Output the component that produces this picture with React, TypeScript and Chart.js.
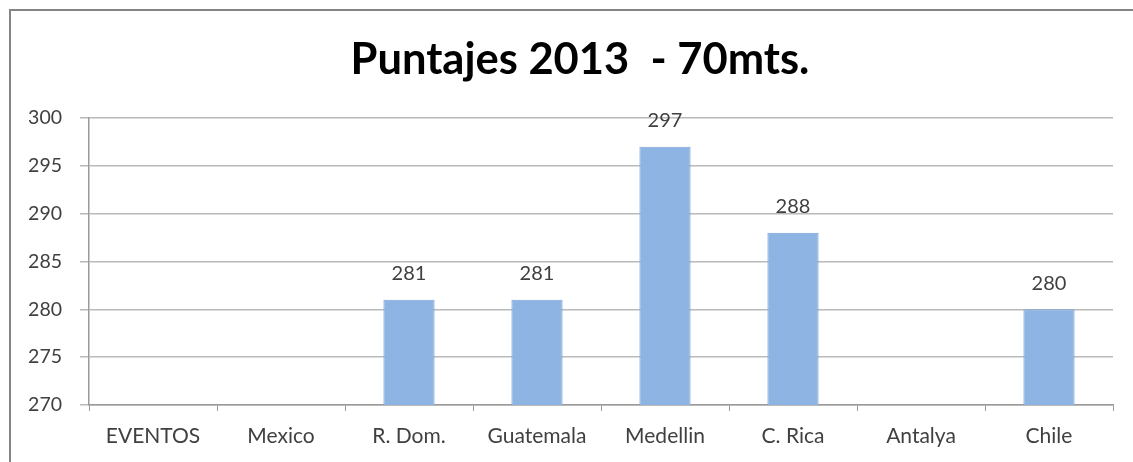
import React, { useEffect, useRef } from "react";
import { Chart, registerables } from "chart.js";

Chart.register(...registerables);

const categories = ["EVENTOS", "Mexico", "R. Dom.", "Guatemala", "Medellin", "C. Rica", "Antalya", "Chile"];
const scores: (number | null)[] = [null, null, 281, 281, 297, 288, null, 280];
const yMin = 270;
const yMax = 300;
const yStep = 5;
const titleText = "Puntajes 2013  - 70mts.";

const FONT = "Lato, 'Open Sans', sans-serif";

const valueLabels = {
  id: "valueLabels",
  afterDatasetsDraw(chart: any) {
    const ctx = chart.ctx;
    const meta = chart.getDatasetMeta(0);
    ctx.save();
    ctx.fillStyle = "#404040";
    ctx.font = `20px ${FONT}`;
    ctx.textAlign = "center";
    ctx.textBaseline = "bottom";
    meta.data.forEach((bar: any, i: number) => {
      const v = scores[i];
      if (v == null) return;
      ctx.fillText(String(v), bar.x, bar.y - 16);
    });
    ctx.restore();
  },
};

const chartTitle = {
  id: "chartTitle",
  afterDraw(chart: any) {
    const ctx = chart.ctx;
    const area = chart.chartArea;
    ctx.save();
    ctx.fillStyle = "#000";
    ctx.font = `bold 43.5px ${FONT}`;
    ctx.textAlign = "center";
    ctx.textBaseline = "middle";
    ctx.fillText(titleText, (area.left + area.right) / 2 - 21, area.top - 58);
    ctx.restore();
  },
};

export default function App() {
  const ref = useRef<HTMLCanvasElement>(null);
  useEffect(() => {
    if (!ref.current) return;
    const chart = new Chart(ref.current, {
      type: "bar",
      data: {
        labels: categories,
        datasets: [
          {
            data: scores as any,
            backgroundColor: "#8db4e2",
            borderColor: "#7da3d6",
            borderWidth: 1,
            categoryPercentage: 1,
            barPercentage: 0.4,
          },
        ],
      },
      options: {
        animation: false,
        responsive: false,
        maintainAspectRatio: false,
        layout: { padding: { left: 9, right: 20, top: 118, bottom: 0 } },
        plugins: {
          legend: { display: false },
          tooltip: { enabled: false },
          title: { display: false },
        },
        scales: {
          x: {
            grid: {
              display: true,
              drawOnChartArea: false,
              drawTicks: true,
              tickLength: 6,
              color: "#9a9a9a",
              offset: true,
            },
            border: { color: "#9a9a9a", width: 1.5 },
            ticks: {
              color: "#404040",
              font: { family: FONT, size: 21 },
              padding: 13,
              maxRotation: 0,
              autoSkip: false,
            },
            afterFit(scale: any) {
              scale.height = 57;
            },
          },
          y: {
            min: yMin,
            max: yMax,
            grid: {
              color: "#bababa",
              lineWidth: 1.5,
              drawTicks: true,
              tickLength: 9,
            },
            border: { color: "#9a9a9a", width: 1.5 },
            ticks: {
              stepSize: yStep,
              color: "#404040",
              font: { family: FONT, size: 19.5 },
              padding: 18,
            },
            afterFit(scale: any) {
              scale.width = 80;
            },
          },
        },
      },
      plugins: [valueLabels, chartTitle],
    });
    return () => chart.destroy();
  }, []);

  return (
    <div
      style={{
        position: "fixed",
        left: 0,
        top: 0,
        width: 1133,
        height: 462,
        background: "#fff",
        overflow: "hidden",
      }}
    >
      <div
        style={{
          position: "absolute",
          left: 9,
          top: 9,
          width: 1200,
          height: 500,
          borderTop: "2px solid #858585",
          borderLeft: "2px solid #858585",
        }}
      />
      <canvas ref={ref} width={1133} height={462} style={{ position: "absolute", left: 0, top: 0 }} />
    </div>
  );
}
